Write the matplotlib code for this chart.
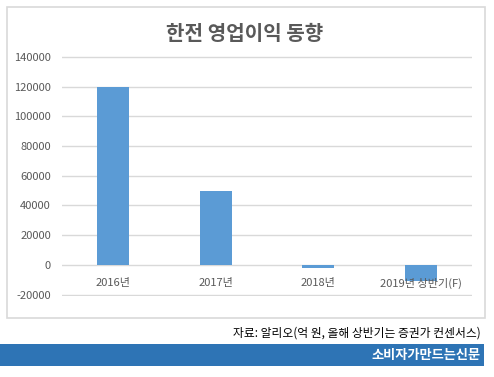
import matplotlib.pyplot as plt
from matplotlib.patches import Rectangle

plt.rcParams['font.family'] = ['Noto Sans CJK KR', 'DejaVu Sans']

# data (억 원)
categories = ['2016년', '2017년', '2018년', '2019년 상반기(F)']
profit = [120000, 49532, -2080, -11000]
yticks = [-20000, 0, 20000, 40000, 60000, 80000, 100000, 120000, 140000]

title = '한전 영업이익 동향'
source = '자료: 알리오(억 원, 올해 상반기는 증권가 컨센서스)'
brand = '소비자가만드는신문'

W, H = 494, 377
fig = plt.figure(figsize=(W / 100, H / 100), dpi=100)

def fx(px):
    return px / W

def fy(py):
    return 1 - py / H

# chart frame
fig.patches.append(Rectangle((fx(6.5), fy(318)), fx(485) - fx(6.5), fy(6.5) - fy(318),
                             transform=fig.transFigure, facecolor='none',
                             edgecolor='#D9D9D9', linewidth=1.2, zorder=0))

ax = fig.add_axes([fx(62), fy(296), fx(472) - fx(62), fy(56) - fy(296)])
ax.set_zorder(2)
ax.set_facecolor('none')
x = list(range(len(categories)))
ax.bar(x, profit, width=0.31, color='#5B9BD5', zorder=3)
ax.set_xlim(-0.5, len(categories) - 0.5)
ax.set_ylim(-20900, 140600)
ax.set_yticks(yticks)
ax.set_yticklabels([str(v) for v in yticks])
ax.yaxis.grid(True, color='#D9D9D9', linewidth=1)
ax.set_axisbelow(True)
ax.tick_params(axis='y', length=0, pad=8, labelsize=8, labelcolor='#595959')
ax.set_xticks([])
for s in ax.spines.values():
    s.set_visible(False)

for i, c in enumerate(categories):
    ax.annotate(c, (i, 0), xytext=(0, -13), textcoords='offset points',
                ha='center', va='center', fontsize=8, color='#595959')

fig.text(fx(245), fy(33), title, ha='center', va='center', fontsize=14.5,
         fontweight='bold', color='#595959')

fig.text(fx(481), fy(333), source, ha='right', va='center', fontsize=8.5, color='black')

fig.patches.append(Rectangle((0, fy(365.5)), fx(484), fy(344) - fy(365.5),
                             transform=fig.transFigure, facecolor='#2E74B5',
                             edgecolor='none', zorder=0))
fig.text(fx(481), fy(355), brand, ha='right', va='center', fontsize=9.5,
         fontweight='bold', color='white')

fig.savefig('out.png', dpi=100, facecolor='white')
